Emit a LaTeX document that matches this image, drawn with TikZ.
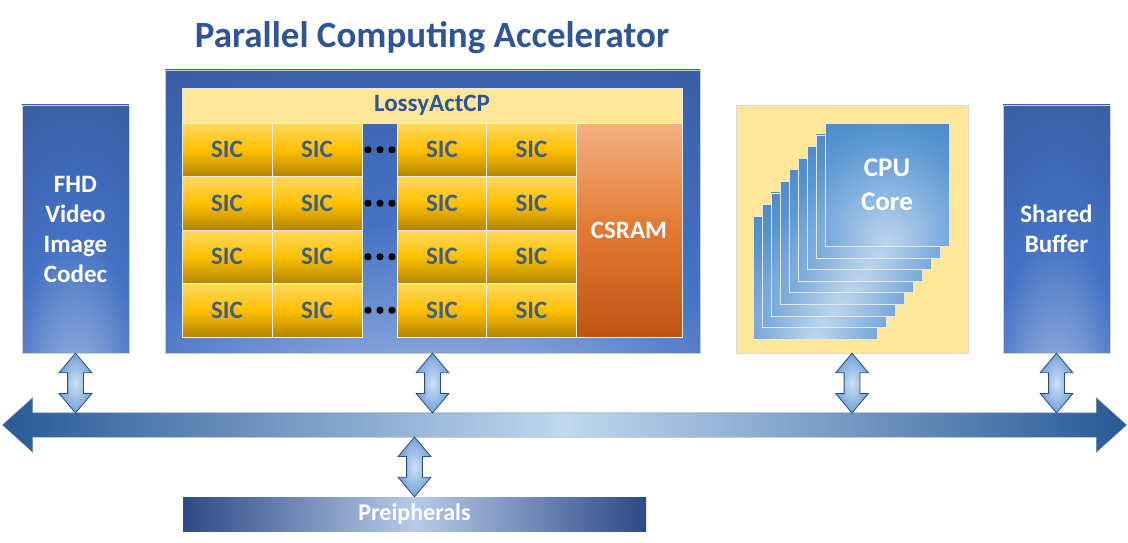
\documentclass[tikz,border=0pt]{standalone}
\usepackage{fontspec}
\setmainfont{Carlito}
\usetikzlibrary{shapes.arrows,calc}

\definecolor{navy}{RGB}{44,74,135}
\definecolor{midblue}{RGB}{68,114,196}
\definecolor{paleblue}{RGB}{184,202,234}
\definecolor{titleblue}{RGB}{47,85,151}
\definecolor{paleyellow}{RGB}{255,230,153}
\definecolor{goldtop}{RGB}{255,216,96}
\definecolor{goldmid}{RGB}{255,192,0}
\definecolor{goldbot}{RGB}{178,132,0}
\definecolor{sictext}{RGB}{62,96,126}
\definecolor{ramtop}{RGB}{244,177,131}
\definecolor{rammid}{RGB}{226,120,50}
\definecolor{rambot}{RGB}{190,85,20}
\definecolor{coretop}{RGB}{40,100,165}
\definecolor{coremid}{RGB}{90,150,210}
\definecolor{corebot}{RGB}{190,214,238}
\definecolor{busdark}{RGB}{40,90,150}
\definecolor{buslight}{RGB}{192,216,240}
\definecolor{linkmid}{RGB}{205,225,244}
\definecolor{linkedge}{RGB}{78,136,202}

\pgfdeclareradialshading{glow}{\pgfpoint{0bp}{-45bp}}{color(0bp)=(paleblue); color(30bp)=(midblue); color(75bp)=(navy); color(100bp)=(navy)}
\pgfdeclareradialshading{coreglow}{\pgfpoint{0bp}{-25bp}}{color(0bp)=(corebot); color(35bp)=(coremid); color(80bp)=(coretop); color(100bp)=(coretop)}
\pgfdeclareradialshading{spot}{\pgfpoint{0bp}{0bp}}{color(0bp)=(linkmid); color(35bp)=(linkedge); color(60bp)=(linkedge)}

\newcommand\buslink[2]{\path let \p1=(#1), \p2=(#2), \n1={veclen(\x1-\x2,\y1-\y2)} in node[link, minimum height=\n1] at ($(\p1)!0.5!(\p2)$) {};}

\begin{document}
\begin{tikzpicture}[x=1pt,y=-1pt,
  txt/.style={font=\fontsize{25}{30}\selectfont\bfseries},
  tallbox/.style={rectangle, draw=gray!35, shade, shading=glow, minimum width=107, minimum height=248, inner sep=0, align=center, text=white, txt},
  sic/.style={rectangle, draw=white!85!gray, line width=1, top color=goldtop, bottom color=goldbot, middle color=goldmid, minimum width=90, minimum height=53.5, inner sep=0, text=sictext, txt},
  core/.style={rectangle, draw=white!80!gray, shade, shading=coreglow, minimum width=124, minimum height=123, inner sep=0, align=center, text=white, font=\fontsize{27}{34}\selectfont\bfseries},
  link/.style={double arrow, rotate=90, inner xsep=0, inner ysep=7.5, double arrow head extend=8.5, double arrow tip angle=80, draw=navy, line width=0.8, shade, shading=spot},
  bus/.style={double arrow, minimum height=1124, inner xsep=0, inner ysep=12, double arrow head extend=15, double arrow tip angle=84, draw=navy!70, left color=busdark, right color=busdark, middle color=buslight}]
  \useasboundingbox (0,0) rectangle (1128,543);

  \node[text=titleblue, font=\fontsize{37}{44}\selectfont\bfseries] (title) at (432,38) {Parallel Computing Accelerator};

  \node[tallbox] (fhd) at (75.5,229) {FHD\\Video\\Image\\Codec};

  \node[rectangle, draw=gray!40, shade, shading=glow, minimum width=535, minimum height=283] (acc) at (432.5,211.5) {};
  \node[rectangle, fill=paleyellow, draw=white!80!gray, minimum width=500, minimum height=35, inner sep=0, text=titleblue, txt] (lossy) at (432,105.5) {LossyActCP};
  \foreach \r in {1,...,4}{
    \foreach \c/\cx in {1/227,2/317,3/442,4/531.5}
      \node[sic] (sic-\r-\c) at (\cx,96.25+53.5*\r) {SIC};
    \foreach \d in {-12,0,12}
      \fill (380+\d,96.25+53.5*\r) circle (3.6);
  }
  \node[rectangle, draw=white!85!gray, line width=1, top color=ramtop, bottom color=rambot, middle color=rammid, minimum width=106, minimum height=214, inner sep=0, text=white, txt] (csram) at (629,230) {CSRAM};

  \node[rectangle, fill=paleyellow, draw=gray!30, minimum width=232, minimum height=248] (cpu) at (852,229) {};
  \foreach \k in {0,...,7}
    \node[core] (core-\k) at (815+9*\k,277.5-11.6*\k) {};
  \node[core] (core-8) at (887,184.7) {CPU\\Core};

  \node[tallbox] (shared) at (1056.5,229) {Shared\\Buffer};

  \node[bus] (bus) at (564.5,425) {};
  \coordinate (bus-top) at (564.5,413);
  \coordinate (bus-bot) at (564.5,437);

  \node[rectangle, left color=navy, right color=navy, middle color=paleblue, minimum width=463, minimum height=34, inner sep=0, text=white, font=\fontsize{24}{28}\selectfont\bfseries] (periph) at (414.5,514) {Preipherals};

  \buslink{fhd.south}{fhd.south |- bus-top}
  \buslink{acc.south}{acc.south |- bus-top}
  \buslink{cpu.south}{cpu.south |- bus-top}
  \buslink{shared.south}{shared.south |- bus-top}
  \buslink{periph.north |- bus-bot}{periph.north}
\end{tikzpicture}
\end{document}
